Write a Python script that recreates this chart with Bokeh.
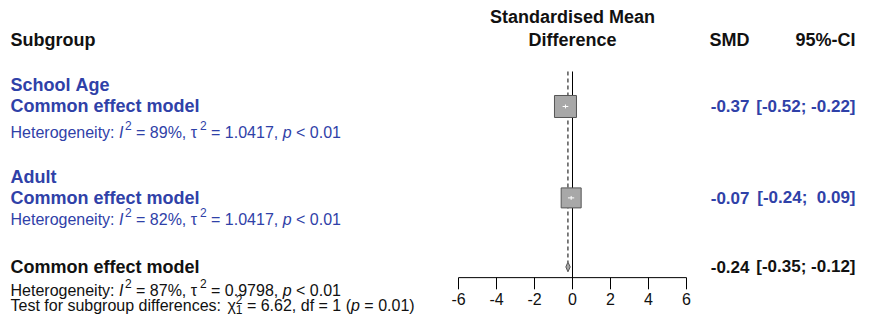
from bokeh.plotting import figure
from bokeh.models import ColumnDataSource, Range1d
from bokeh.core.properties import value
from bokeh.embed import file_html
from bokeh.resources import INLINE

# ---------------- data ----------------
subgroups = ["School Age", "Adult"]
smd = [-0.37, -0.07]
ci_low = [-0.52, -0.24]
ci_high = [-0.22, 0.09]
i2 = [89, 82]
tau2 = [1.0417, 1.0417]
het_p = ["< 0.01", "< 0.01"]
overall_smd = -0.24
overall_low = -0.35
overall_high = -0.12
overall_i2 = 87
overall_tau2 = 0.9798
overall_p = "< 0.01"
test_chi2 = 6.62
test_df = 1
test_p = "0.01"
ticks = [-6, -4, -2, 0, 2, 4, 6]

# ---------------- layout ----------------
W, H = 856, 317
YSPAN = 326.0        # layout units spanned vertically
PX = 19.0            # pixels per SMD unit
ZERO = 572.0         # pixel position of SMD = 0
BLUE = "#2F41A8"
BLACK = "#111111"
FONT = "Liberation Sans"
BOLD = 18
NUMS = 17
REGS = 16.0
SUPS = 12.0
NB = "\u00a0"

p = figure(width=W, height=H, x_range=Range1d(-ZERO / PX, (W - ZERO) / PX),
           y_range=Range1d(YSPAN, 0), output_backend="svg", toolbar_location=None,
           x_axis_type=None, y_axis_type=None, min_border=0)
p.grid.visible = False
p.outline_line_color = None
p.background_fill_color = "white"

ARIAL = {' ': 278, '%': 889, '(': 333, ')': 333, ',': 278, '-': 333, '.': 278, ':': 278,
         ';': 278, '<': 584, '=': 584, '>': 584, '[': 278, ']': 278, NB: 278,
         'a': 556, 'b': 556, 'c': 500, 'd': 556, 'e': 556, 'f': 278, 'g': 556, 'h': 556,
         'i': 222, 'j': 222, 'k': 500, 'l': 222, 'm': 833, 'n': 556, 'o': 556, 'p': 556,
         'q': 556, 'r': 333, 's': 500, 't': 278, 'u': 556, 'v': 500, 'w': 722, 'x': 500,
         'y': 500, 'z': 500, 'H': 722, 'I': 278, 'T': 611, '\u03c4': 480, '\u03c7': 520}


def tw(s, size):
    return sum(ARIAL.get(ch, 556) for ch in s) / 1000.0 * size


txt = dict(x=[], y=[], text=[], size=[], style=[], color=[], align=[])


def add(x, y, text, size, style, color, align="left"):
    txt["x"].append(x)
    txt["y"].append(y)
    txt["text"].append(text.replace(" ", NB))
    txt["size"].append(f"{size}px")
    txt["style"].append(style)
    txt["color"].append(color)
    txt["align"].append(align)


def rich(parts, x0, yc, color):
    cur = 0.0
    for text, kind in parts:
        x = x0 + cur / PX
        if kind == "r":
            add(x, yc, text, REGS, "normal", color)
            cur += tw(text, REGS)
        elif kind == "i":
            add(x, yc, text, REGS, "italic", color)
            cur += tw(text, REGS)
        elif kind == "sup":
            add(x + 1.5 / PX, yc - 7, text, SUPS, "normal", color)
            cur += tw(text, SUPS) + 1.5
        elif kind == "supsub":
            sup, sub = text
            add(x, yc - 7, sup, SUPS, "normal", color)
            add(x, yc + 3.5, sub, SUPS, "normal", color)
            cur += max(tw(sup, SUPS), tw(sub, SUPS))


def het_parts(i2v, t2v, pv):
    return [("Heterogeneity: ", "r"), ("I", "i"), ("2", "sup"),
            (f" = {i2v}%, ", "r"), ("\u03c4", "r"), ("2", "sup"),
            (f" = {t2v:.4f}, ", "r"), ("p", "i"), (f" {pv}", "r")]


def ci_text(lo, hi):
    return "[" + f"{lo:5.2f}" + "; " + f"{hi:5.2f}" + "]"


XL = (10 - ZERO) / PX
X_SMD = (749 - ZERO) / PX
X_CI = (855 - ZERO) / PX

# headers
add(0, 17, "Standardised Mean", BOLD, "bold", BLACK, "center")
add(0, 41, "Difference", BOLD, "bold", BLACK, "center")
add(XL, 41, "Subgroup", BOLD, "bold", BLACK)
add(X_SMD, 41, "SMD", BOLD, "bold", BLACK, "right")
add(X_CI, 41, "95%-CI", BOLD, "bold", BLACK, "right")

group_rows = [(87, 109, 136), (181, 203, 225)]
box_y = []
for k, name in enumerate(subgroups):
    yn, yc, yh = group_rows[k]
    box_y.append(yc)
    add(XL, yn, name, BOLD, "bold", BLUE)
    add(XL, yc, "Common effect model", BOLD, "bold", BLUE)
    add(X_SMD, yc, f"{smd[k]:.2f}", NUMS, "bold", BLUE, "right")
    add(X_CI, yc, ci_text(ci_low[k], ci_high[k]), NUMS, "bold", BLUE, "right")
    rich(het_parts(i2[k], tau2[k], het_p[k]), XL, yh, BLUE)

YO = 274
add(XL, YO, "Common effect model", BOLD, "bold", BLACK)
add(X_SMD, YO, f"{overall_smd:.2f}", NUMS, "bold", BLACK, "right")
add(X_CI, YO, ci_text(overall_low, overall_high), NUMS, "bold", BLACK, "right")
rich(het_parts(overall_i2, overall_tau2, overall_p), XL, 298, BLACK)
rich([("Test for subgroup differences: ", "r"), ("\u03c7", "r"), (("2", str(test_df)), "supsub"),
      (f" = {test_chi2:.2f}, df = {test_df} (", "r"), ("p", "i"), (f" = {test_p})", "r")],
     XL, 314, BLACK)

# tick labels
AX_Y = 285
for t in ticks:
    add(t, 307, f"{t}", REGS, "normal", BLACK, "center")

# reference lines
p.segment(x0=[0], y0=[73], x1=[0], y1=[AX_Y], line_color="black", line_width=1)
p.segment(x0=[overall_smd], y0=[73], x1=[overall_smd], y1=[YO - 5],
          line_color="black", line_width=1, line_dash="4 3")

# axis
p.segment(x0=[min(ticks)], y0=[AX_Y], x1=[max(ticks)], y1=[AX_Y], line_color="black", line_width=1)
p.segment(x0=ticks, y0=[AX_Y] * len(ticks), x1=ticks, y1=[AX_Y + 12] * len(ticks),
          line_color="black", line_width=1)

# boxes sized by inverse-variance weight
se = [(h - l) / 3.92 for l, h in zip(ci_low, ci_high)]
wts = [1 / s ** 2 for s in se]
side = [22 * (w / max(wts)) ** 0.5 for w in wts]
p.rect(x=smd, y=box_y, width=side, height=side, width_units="screen", height_units="screen",
       fill_color="#A8A8A8", line_color="#555555", line_width=1)
p.segment(x0=ci_low, y0=box_y, x1=ci_high, y1=box_y, line_color="white", line_width=1)
p.segment(x0=smd, y0=[y - 2 for y in box_y], x1=smd, y1=[y + 2 for y in box_y],
          line_color="white", line_width=1)

# overall diamond
p.patch(x=[overall_low, overall_smd, overall_high, overall_smd],
        y=[YO, YO - 5, YO, YO + 5], fill_color="#A8A8A8", line_color="#555555", line_width=1)

for al in ["left", "center", "right"]:
    idx = [i for i, a in enumerate(txt["align"]) if a == al]
    sub = ColumnDataSource({k: [v[i] for i in idx] for k, v in txt.items()})
    p.text(x="x", y="y", text="text", source=sub, text_font=value(FONT),
           text_font_size="size", text_font_style="style", text_color="color",
           text_align=al, text_baseline="middle")

open("out.html", "w").write(file_html(p, INLINE))
